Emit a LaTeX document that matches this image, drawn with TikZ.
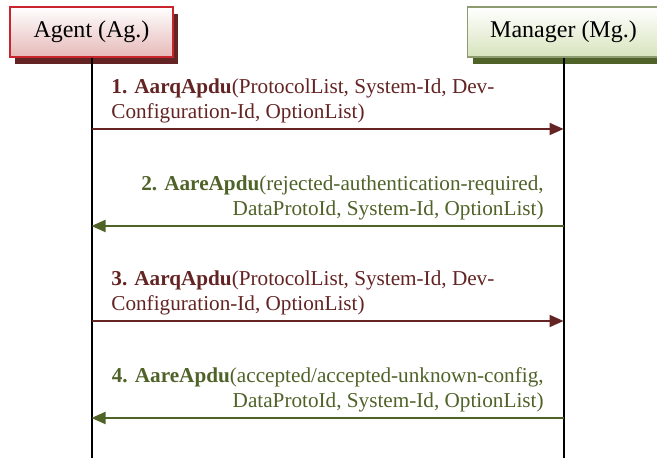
\documentclass[tikz,border=0pt]{standalone}
\usepackage{fontspec}
\setmainfont{Liberation Serif}
\usetikzlibrary{shadows,arrows.meta}
\definecolor{agred}{HTML}{C8262C}
\definecolor{agpink}{HTML}{E6B9B8}
\definecolor{agdark}{HTML}{632423}
\definecolor{mgline}{HTML}{8C9C70}
\definecolor{mglight}{HTML}{D7E4BD}
\definecolor{mgdark}{HTML}{4F6228}

\begin{document}
\begin{tikzpicture}[x=0.5pt,y=-0.5pt,
  actor/.style={draw, line width=0.75pt, minimum height=25pt, inner sep=0pt,
    font=\fontsize{12}{14}\selectfont},
  lifeline/.style={line width=1pt},
  req/.style={draw=agdark, line width=1pt, -{Triangle[length=7pt,width=6pt]}},
  resp/.style={draw=mgdark, line width=1pt, -{Triangle[length=7pt,width=6pt]}},
  reqtext/.style={text=agdark, anchor=south west, align=left, inner sep=0pt,
    font=\fontsize{10.6}{12.5}\selectfont},
  resptext/.style={text=mgdark, anchor=south east, align=right, inner sep=0pt,
    font=\fontsize{10.6}{12.5}\selectfont}]
\useasboundingbox (0,0) rectangle (657,458);

\node[actor, draw=agred, top color=white, bottom color=agpink, minimum width=81.5pt,
  drop shadow={shadow xshift=2.5pt, shadow yshift=-3.5pt, fill=agdark, opacity=1}]
  (ag) at (91.5,32) {Agent (Ag.)};
\node[actor, draw=mgline, top color=white, bottom color=mglight, minimum width=96pt,
  drop shadow={shadow xshift=2.5pt, shadow yshift=-3.5pt, fill=mgdark, opacity=1}]
  (mg) at (563.5,32) {Manager (Mg.)};

\coordinate (agend) at (91.5,458);
\coordinate (mgend) at (563.5,458);
\draw[lifeline] (ag.south) -- (agend);
\draw[lifeline] (mg.south) -- (mgend);

\foreach \n/\y in {1/129,2/226,3/321,4/418} {
  \coordinate (ag\n) at (91.5,\y);
  \coordinate (mg\n) at (563.5,\y);
}

\draw[req] (ag1) -- (mg1);
\node[reqtext] (msg1) at (111,123) {\textbf{1. AarqApdu}(ProtocolList, System-Id, Dev-\\Configuration-Id, OptionList)};
\draw[resp] (mg2) -- (ag2);
\node[resptext] (msg2) at (544,220) {\textbf{2. AareApdu}(rejected-authentication-required,\\DataProtoId, System-Id, OptionList)};
\draw[req] (ag3) -- (mg3);
\node[reqtext] (msg3) at (111,315) {\textbf{3. AarqApdu}(ProtocolList, System-Id, Dev-\\Configuration-Id, OptionList)};
\draw[resp] (mg4) -- (ag4);
\node[resptext] (msg4) at (544,412) {\textbf{4. AareApdu}(accepted/accepted-unknown-config,\\DataProtoId, System-Id, OptionList)};
\end{tikzpicture}
\end{document}
